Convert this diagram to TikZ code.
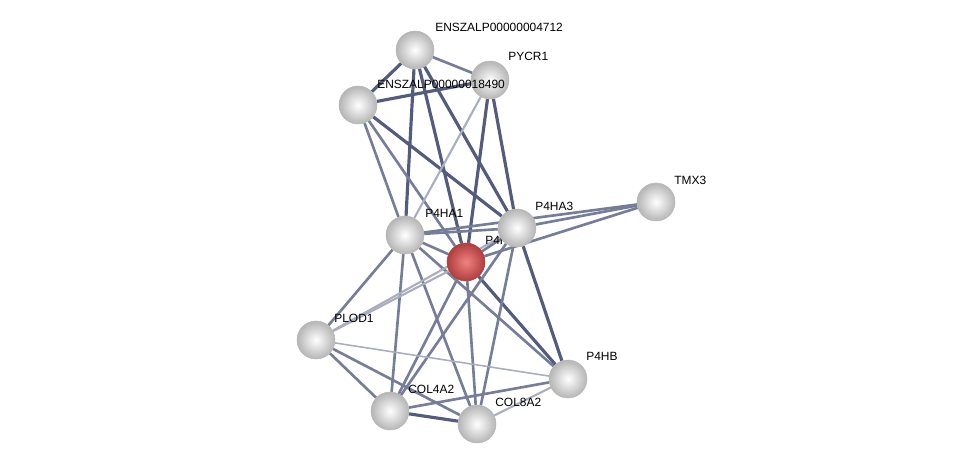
\documentclass[tikz,border=0pt]{standalone}
\usepackage{fontspec}
\setmainfont{Liberation Sans}
\usetikzlibrary{backgrounds}
\definecolor{edgec}{RGB}{84,92,126}
\definecolor{redin}{RGB}{240,130,130}
\definecolor{redout}{RGB}{175,62,62}

\begin{document}
\begin{tikzpicture}[x=0.02cm,y=-0.02cm,
  prot/.style={circle,minimum size=0.76cm,inner sep=0pt,shading=radial,inner color=white,outer color=gray!58,draw=gray!55,line width=0.3pt},
  qry/.style={prot,inner color=redin,outer color=redout,draw=redout},
  lab/.style={anchor=west,inner sep=0pt,font=\fontsize{6.8}{8}\selectfont},
  strong/.style={edgec,line width=1.8pt},
  mid/.style={edgec!80,line width=1.5pt},
  weak/.style={edgec!50,line width=1.2pt}]

  \useasboundingbox (0,0) rectangle (976,469);

  % proteins, each with its label
  \node [prot] (e4712) at (415,50) {};
  \node [lab] at ([shift={(20,-23)}]e4712.center) {ENSZALP00000004712};
  \node [prot] (pycr) at (490,80) {};
  \node [lab] at ([shift={(18,-24)}]pycr.center) {PYCR1};
  \node [prot] (e18490) at (358,105) {};
  \node [lab] at ([shift={(19,-21)}]e18490.center) {ENSZALP00000018490};
  \node [prot] (pha1) at (405,235) {};
  \node [lab] at ([shift={(20,-22)}]pha1.center) {P4HA1};
  \node [qry] (pha2) at (466,262) {};
  \node [lab] at ([shift={(19,-22)}]pha2.center) {P4HA2};
  \node [prot] (pha3) at (517,228) {};
  \node [lab] at ([shift={(18,-22)}]pha3.center) {P4HA3};
  \node [prot] (tmx) at (656,202) {};
  \node [lab] at ([shift={(18,-22)}]tmx.center) {TMX3};
  \node [prot] (plod) at (316,340) {};
  \node [lab] at ([shift={(18,-22)}]plod.center) {PLOD1};
  \node [prot] (phb) at (568,379) {};
  \node [lab] at ([shift={(18,-23)}]phb.center) {P4HB};
  \node [prot] (col4) at (390,411) {};
  \node [lab] at ([shift={(18,-22)}]col4.center) {COL4A2};
  \node [prot] (col8) at (477,424) {};
  \node [lab] at ([shift={(18,-22)}]col8.center) {COL8A2};

  % interactions
  \begin{pgfonlayer}{background}
    \draw [strong] (e4712) -- (e18490);
    \draw [mid] (e4712) -- (pycr);
    \draw [strong] (e4712) -- (pha1);
    \draw [strong] (e4712) -- (pha2);
    \draw [strong] (e4712) -- (pha3);
    \draw [strong] (e18490) -- (pycr);
    \draw [mid] (e18490) -- (pha1);
    \draw [mid] (e18490) -- (pha2);
    \draw [strong] (e18490) -- (pha3);
    \draw [weak] (pycr) -- (pha1);
    \draw [strong] (pycr) -- (pha2);
    \draw [strong] (pycr) -- (pha3);
    \draw [mid] (pha1) -- (pha3);
    \draw [mid] (pha1) -- (pha2);
    \draw [mid] (pha1) -- (tmx);
    \draw [mid] (pha1) -- (plod);
    \draw [mid] (pha1) -- (col4);
    \draw [mid] (pha1) -- (col8);
    \draw [mid] (pha1) -- (phb);
    \draw [mid] (pha2) -- (pha3);
    \draw [mid] (pha2) -- (tmx);
    \draw [weak] (pha2) -- (plod);
    \draw [mid] (pha2) -- (col4);
    \draw [mid] (pha2) -- (col8);
    \draw [strong] (pha2) -- (phb);
    \draw [mid] (pha3) -- (tmx);
    \draw [weak] (pha3) -- (plod);
    \draw [strong] (pha3) -- (phb);
    \draw [mid] (pha3) -- (col4);
    \draw [mid] (pha3) -- (col8);
    \draw [mid] (plod) -- (col4);
    \draw [mid] (plod) -- (col8);
    \draw [weak,line width=0.9pt] (plod) -- (phb);
    \draw [strong] (col4) -- (col8);
    \draw [mid] (col4) -- (phb);
    \draw [weak] (col8) -- (phb);
  \end{pgfonlayer}
\end{tikzpicture}
\end{document}
